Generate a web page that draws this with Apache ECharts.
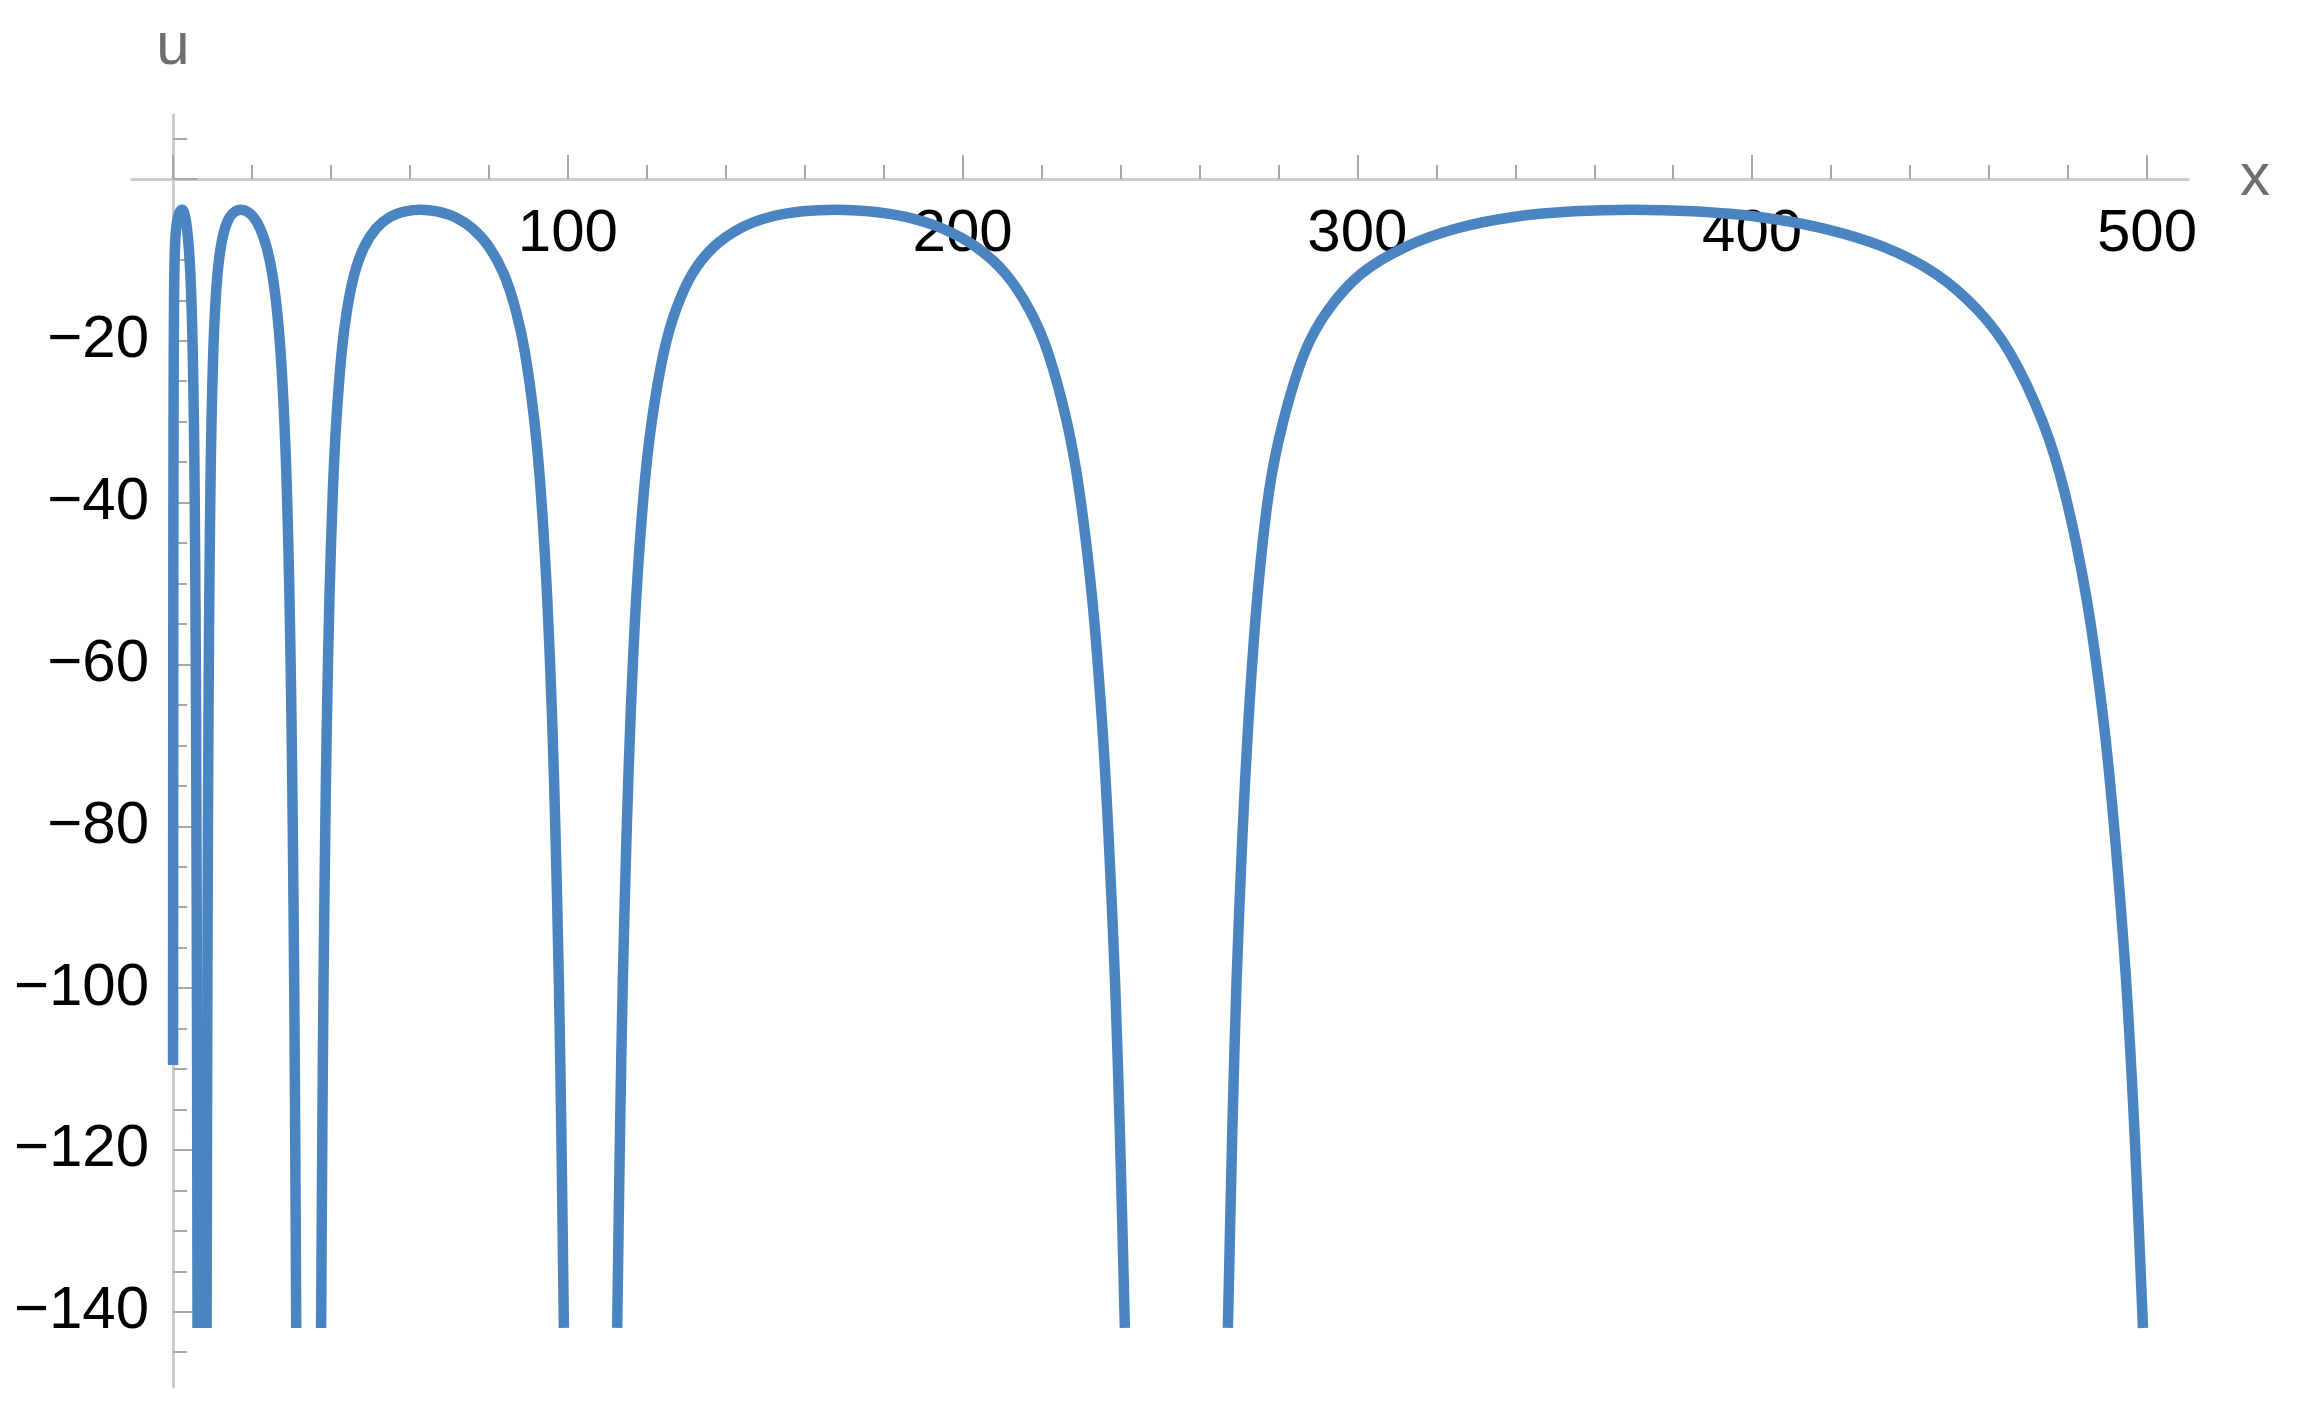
<!DOCTYPE html>
<html lang="en" style="height: 100%">
<head>
  <meta charset="utf-8">
  <title>u(x)</title>
</head>
<body style="height: 100%; margin: 0; background: #fff">
  <div id="container" style="height: 100%"></div>

  <script type="text/javascript" src="https://cdn.jsdelivr.net/npm/echarts@6/dist/echarts.min.js"></script>

  <script type="text/javascript">
    // arches of u(x) as [x, u] pairs
    const arch1 = [[0, -109.5], [0.05, -60], [0.12, -30], [0.25, -15], [0.45, -9], [0.8, -6], [1.3, -4.6],
      [1.8, -4.0], [2.3, -3.8], [2.66, -4.0], [3.08, -4.7], [3.52, -6.1], [3.97, -8.4], [4.38, -11.7],
      [4.72, -16.2], [4.99, -21.5], [5.28, -30], [5.47, -38.7], [5.67, -52], [5.83, -67], [5.93, -81],
      [6.04, -99], [6.12, -118], [6.2, -142]];
    const arch2 = [[8.5, -142], [8.6, -118], [8.7, -99], [8.83, -81], [8.97, -67], [9.17, -52], [9.45, -38.7],
      [9.74, -30], [10.18, -21.5], [10.64, -16.2], [11.27, -11.7], [12.1, -8.4], [13.15, -6.1],
      [14.37, -4.7], [15.77, -4.0], [17.17, -3.8], [18.65, -4.0], [20.35, -4.7], [22.04, -6.1],
      [23.68, -8.4], [25.12, -11.7], [26.32, -16.2], [27.25, -21.5], [28.2, -30], [28.85, -38.7],
      [29.5, -52], [30.0, -67], [30.34, -81], [30.68, -99], [30.94, -118], [31.2, -142]];
    const arch3 = [[37.5, -142], [37.81, -118], [38.12, -99], [38.54, -81], [38.96, -67], [39.6, -52],
      [40.47, -38.7], [41.35, -30], [42.69, -21.5], [44.07, -16.2], [45.96, -11.7], [48.41, -8.4],
      [51.47, -6.1], [54.95, -4.7], [58.9, -4.0], [62.74, -3.8], [66.78, -4.0], [71.34, -4.7],
      [75.77, -6.1], [80.05, -8.4], [83.75, -11.7], [86.8, -16.2], [89.15, -21.5], [91.54, -30],
      [93.16, -38.7], [94.8, -52], [96.04, -67], [96.88, -81], [97.72, -99], [98.36, -118], [99, -142]];
    const arch4 = [[112.5, -142], [113.21, -118], [113.93, -99], [114.88, -81], [115.85, -67], [117.3, -52],
      [119.26, -38.7], [121.25, -30], [124.27, -21.5], [127.36, -16.2], [131.55, -11.7], [136.95, -8.4],
      [143.64, -6.1], [151.15, -4.7], [159.58, -4.0], [167.71, -3.8], [176.15, -4.0], [185.59, -4.7],
      [194.69, -6.1], [203.38, -8.4], [210.85, -11.7], [216.97, -16.2], [221.64, -21.5], [226.39, -30],
      [229.6, -38.7], [232.85, -52], [235.3, -67], [236.95, -81], [238.6, -99], [239.85, -118], [241.1, -142]];
    const arch5 = [[267.2, -142], [268.3, -118], [269.4, -99], [270.9, -81], [272.4, -67], [274.6, -52],
      [277.6, -38.7], [281.2, -30], [286.6, -21.5], [292.6, -16.2], [301.0, -11.7], [312.2, -8.4],
      [325.3, -6.1], [339.5, -4.7], [354.89, -4.0], [369.64, -3.8], [384.85, -4.0], [401.74, -4.7],
      [417.92, -6.1], [433.29, -8.4], [446.41, -11.7], [457.13, -16.2], [465.28, -21.5], [473.55, -30],
      [479.13, -38.7], [484.75, -52], [489.0, -67], [491.85, -81], [494.71, -99], [496.87, -118], [499, -142]];

    // ticks and labels
    const xMajorTicks = [0, 100, 200, 300, 400, 500];
    const xLabels = [100, 200, 300, 400, 500];
    const xMinorTicks = [20, 40, 60, 80, 120, 140, 160, 180, 220, 240, 260, 280, 320, 340, 360, 380,
      420, 440, 460, 480];
    const yMajorTicks = [0, -20, -40, -60, -80, -100, -120, -140];
    const yLabels = [-20, -40, -60, -80, -100, -120, -140];
    const yMinorTicks = [5, -5, -10, -15, -25, -30, -35, -45, -50, -55, -65, -70, -75, -85, -90, -95,
      -105, -110, -115, -125, -130, -135, -145];

    var dom = document.getElementById('container');
    var myChart = echarts.init(dom, null, { renderer: 'canvas' });

    const font = 'Liberation Sans';
    const lineColor = '#4a85c1';
    const axisColor = '#cccccc';
    const tickColor = '#a8a8a8';

    // plot box and ranges
    const gridL = 132, gridT = 115, gridW = 2056, gridH = 1272;
    const xMin = -10.4, xMax = 510.4, yMin = -149.3, yMax = 7.9;
    // the axes cross at (0, 0), inside the plot box
    const xAxisOffset = -gridH * (0 - yMin) / (yMax - yMin);
    const yAxisOffset = -gridW * (0 - xMin) / (xMax - xMin);

    function archSeries(data) {
      return {
        type: 'line',
        data: data,
        xAxisIndex: 0,
        yAxisIndex: 0,
        showSymbol: false,
        smooth: 0.3,
        lineStyle: { color: lineColor, width: 10.5 },
        z: 5
      };
    }

    var option = {
      animation: false,
      grid: { left: gridL, top: gridT, width: gridW, height: gridH, outerBoundsMode: 'none' },
      xAxis: [
        {
          type: 'value', min: xMin, max: xMax, position: 'bottom', offset: xAxisOffset,
          axisLine: { onZero: false, lineStyle: { color: axisColor, width: 3 } },
          axisTick: { inside: true, length: 24, customValues: xMajorTicks, lineStyle: { color: tickColor, width: 2 } },
          axisLabel: { customValues: xLabels, margin: 26, fontSize: 60, color: '#000', fontFamily: font },
          splitLine: { show: false },
          name: 'x', nameLocation: 'end', nameGap: 52,
          nameTextStyle: { fontSize: 60, color: '#6e6e6e', fontFamily: font, padding: [8, 0, 0, 0] }
        },
        {
          type: 'value', min: xMin, max: xMax, position: 'bottom', offset: xAxisOffset,
          axisLine: { show: false, onZero: false },
          axisTick: { inside: true, length: 14, customValues: xMinorTicks, lineStyle: { color: tickColor, width: 2 } },
          axisLabel: { show: false },
          splitLine: { show: false }
        }
      ],
      yAxis: [
        {
          type: 'value', min: yMin, max: yMax, position: 'left', offset: yAxisOffset,
          axisLine: { onZero: false, lineStyle: { color: axisColor, width: 3 } },
          axisTick: { inside: true, length: 24, customValues: yMajorTicks, lineStyle: { color: tickColor, width: 2 } },
          axisLabel: {
            customValues: yLabels, margin: 24, fontSize: 60, color: '#000', fontFamily: font,
            formatter: function (v) { return '\u2212' + Math.abs(v); }
          },
          splitLine: { show: false },
          name: 'u', nameLocation: 'end', nameGap: 38,
          nameTextStyle: { fontSize: 60, color: '#6e6e6e', fontFamily: font }
        },
        {
          type: 'value', min: yMin, max: yMax, position: 'left', offset: yAxisOffset,
          axisLine: { show: false, onZero: false },
          axisTick: { inside: true, length: 14, customValues: yMinorTicks, lineStyle: { color: tickColor, width: 2 } },
          axisLabel: { show: false },
          splitLine: { show: false }
        }
      ],
      series: [arch1, arch2, arch3, arch4, arch5].map(archSeries)
    };

    myChart.setOption(option);
    window.addEventListener('resize', myChart.resize);
  </script>
</body>
</html>
